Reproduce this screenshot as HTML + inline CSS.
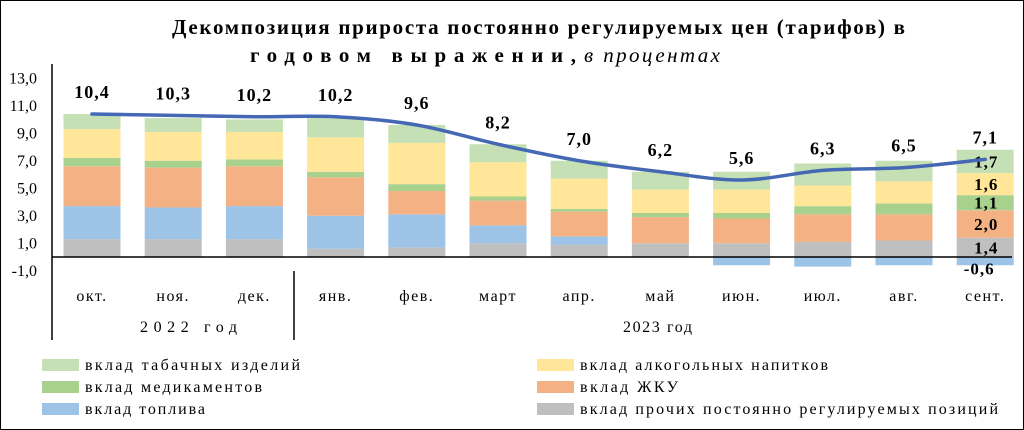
<!DOCTYPE html>
<html><head><meta charset="utf-8">
<style>
html,body{margin:0;padding:0;background:#fff;}
body{width:1024px;height:430px;overflow:hidden;font-family:"Liberation Serif",serif;}
#frame{position:absolute;left:0;top:0;width:1022px;height:428px;border:1px solid #000;}
</style></head>
<body>
<div id="frame"></div>
<svg id="chart" width="1024" height="430" style="position:absolute;left:0;top:0">
<text x="172" y="34" font-size="21" font-weight="bold" textLength="733" lengthAdjust="spacing">Декомпозиция прироста постоянно регулируемых цен (тарифов) в</text>
<text x="250" y="62" font-size="21"><tspan font-weight="bold" textLength="326" lengthAdjust="spacing">годовом выражении,</tspan><tspan x="584" font-style="italic" textLength="136" lengthAdjust="spacing">в процентах</tspan></text>
<g id="plot"></g>
</svg>
<script>
const categories=["окт.","ноя.","дек.","янв.","фев.","март","апр.","май","июн.","июл.","авг.","сент."];
const other=[1.3,1.3,1.3,0.6,0.7,1.0,0.9,1.0,1.0,1.1,1.2,1.4];
const fuel=[2.4,2.3,2.4,2.4,2.4,1.3,0.6,0,-0.6,-0.7,-0.6,-0.6];
const housing=[2.9,2.9,2.9,2.8,1.7,1.8,1.8,1.9,1.8,2.0,1.9,2.0];
const meds=[0.6,0.5,0.5,0.4,0.5,0.3,0.2,0.3,0.4,0.6,0.8,1.1];
const alcohol=[2.1,2.1,2.0,2.5,3.0,2.5,2.2,1.7,1.7,1.5,1.6,1.6];
const tobacco=[1.1,1.0,0.9,1.4,1.3,1.3,1.3,1.3,1.3,1.6,1.5,1.7];
const totals=[10.4,10.3,10.2,10.2,9.6,8.2,7.0,6.2,5.6,6.3,6.5,7.1];
const yTicks=[-1,1,3,5,7,9,11,13];
const yTickLabels=["-1,0","1,0","3,0","5,0","7,0","9,0","11,0","13,0"];
const years=["2022 год","2023 год"];
const sepLabels=["1,4","-0,6","2,0","1,1","1,6","1,7"];

const NS="http://www.w3.org/2000/svg";
const g=document.getElementById('plot');
function el(t,a){const e=document.createElementNS(NS,t);for(const k in a)e.setAttribute(k,a[k]);g.appendChild(e);return e;}
const y0=257,ppu=13.75;
const yS=v=>y0-v*ppu;
const xS=i=>92+i*81.2;
const bw=57;
yTicks.forEach((t,i)=>{const e=el('text',{x:37,y:yS(t)+5,'text-anchor':'end','font-size':16});e.textContent=yTickLabels[i];

});
const series=[{d:other,c:'#bfbfbf',n:'other'},{d:fuel,c:'#9dc3e6',n:'fuel'},{d:housing,c:'#f4b183',n:'housing'},{d:meds,c:'#a9d18e',n:'meds'},{d:alcohol,c:'#ffe699',n:'alcohol'},{d:tobacco,c:'#c5e0b4',n:'tobacco'}];
categories.forEach((c,i)=>{
  let pos=0,neg=0;
  series.forEach(s=>{const v=s.d[i];if(!v)return;let a,b;
    if(v>=0){a=pos;b=pos+v;pos=b;}else{a=neg;b=neg+v;neg=b;}
    const r=el('rect',{x:xS(i)-bw/2,y:Math.min(yS(a),yS(b)),width:bw,height:Math.abs(yS(a)-yS(b)),fill:s.c});
    
    
  });
  const t=el('text',{x:xS(i),y:yS(totals[i])-16,'text-anchor':'middle','font-size':18,'font-weight':'bold','letter-spacing':1});t.textContent=totals[i].toFixed(1).replace('.',',');
  
  
  const m=el('text',{x:xS(i),y:301,'text-anchor':'middle','font-size':16,'letter-spacing':1.5});m.textContent=c;
  
  
});
(function(){const i=11;let pos=0;const vals=[other[i],housing[i],meds[i],alcohol[i],tobacco[i]];const lab=[sepLabels[0],sepLabels[2],sepLabels[3],sepLabels[4],sepLabels[5]];
vals.forEach((v,k)=>{const t=el('text',{x:xS(i)+1,y:yS(pos+v/2)+6,'text-anchor':'middle','font-size':17,'font-weight':'bold','letter-spacing':1});t.textContent=lab[k];pos+=v;

})
const t=el('text',{x:xS(i)-6,y:yS(fuel[i])+9,'text-anchor':'middle','font-size':17,'font-weight':'bold','letter-spacing':1});t.textContent=sepLabels[1];

})();
const pts=totals.map((v,i)=>[xS(i),yS(v)]);
let d='M'+pts[0][0]+','+pts[0][1];
for(let i=0;i<pts.length-1;i++){const p0=pts[Math.max(0,i-1)],p1=pts[i],p2=pts[i+1],p3=pts[Math.min(pts.length-1,i+2)];
d+=' C'+(p1[0]+(p2[0]-p0[0])/6)+','+(p1[1]+(p2[1]-p0[1])/6)+' '+(p2[0]-(p3[0]-p1[0])/6)+','+(p2[1]-(p3[1]-p1[1])/6)+' '+p2[0]+','+p2[1];}
const ln=el('path',{d:d,fill:'none',stroke:'#4468b4','stroke-width':3.5,'stroke-linecap':'round'});


const ax=el('line',{x1:52,y1:64,x2:52,y2:340,stroke:'#000','stroke-width':1.5});


const zl=el('line',{x1:52,y1:y0,x2:1012,y2:y0,stroke:'#000','stroke-width':1.5});


const sp=el('line',{x1:294,y1:271,x2:294,y2:340,stroke:'#000','stroke-width':1.5});


[[140,years[0],97],[623,years[1],69]].forEach(a=>{const t=el('text',{x:a[0],y:332,'font-size':16,textLength:a[2],lengthAdjust:'spacing'});t.textContent=a[1];

});
const leg=[["вклад табачных изделий",'#c5e0b4',42,365,215],["вклад алкогольных напитков",'#ffe699',537,365,248],["вклад медикаментов",'#a9d18e',42,387,177],["вклад ЖКУ",'#f4b183',537,387,98],["вклад топлива",'#9dc3e6',42,409,120],["вклад прочих постоянно регулируемых  позиций",'#bfbfbf',537,409,418]];
leg.forEach(l=>{const r=el('rect',{x:l[2],y:l[3]-6,width:37,height:12,fill:l[1]});


const t=el('text',{x:l[2]+43,y:l[3]+5,'font-size':16,textLength:l[4],lengthAdjust:'spacing'});t.textContent=l[0];

});
</script>
</body></html>
